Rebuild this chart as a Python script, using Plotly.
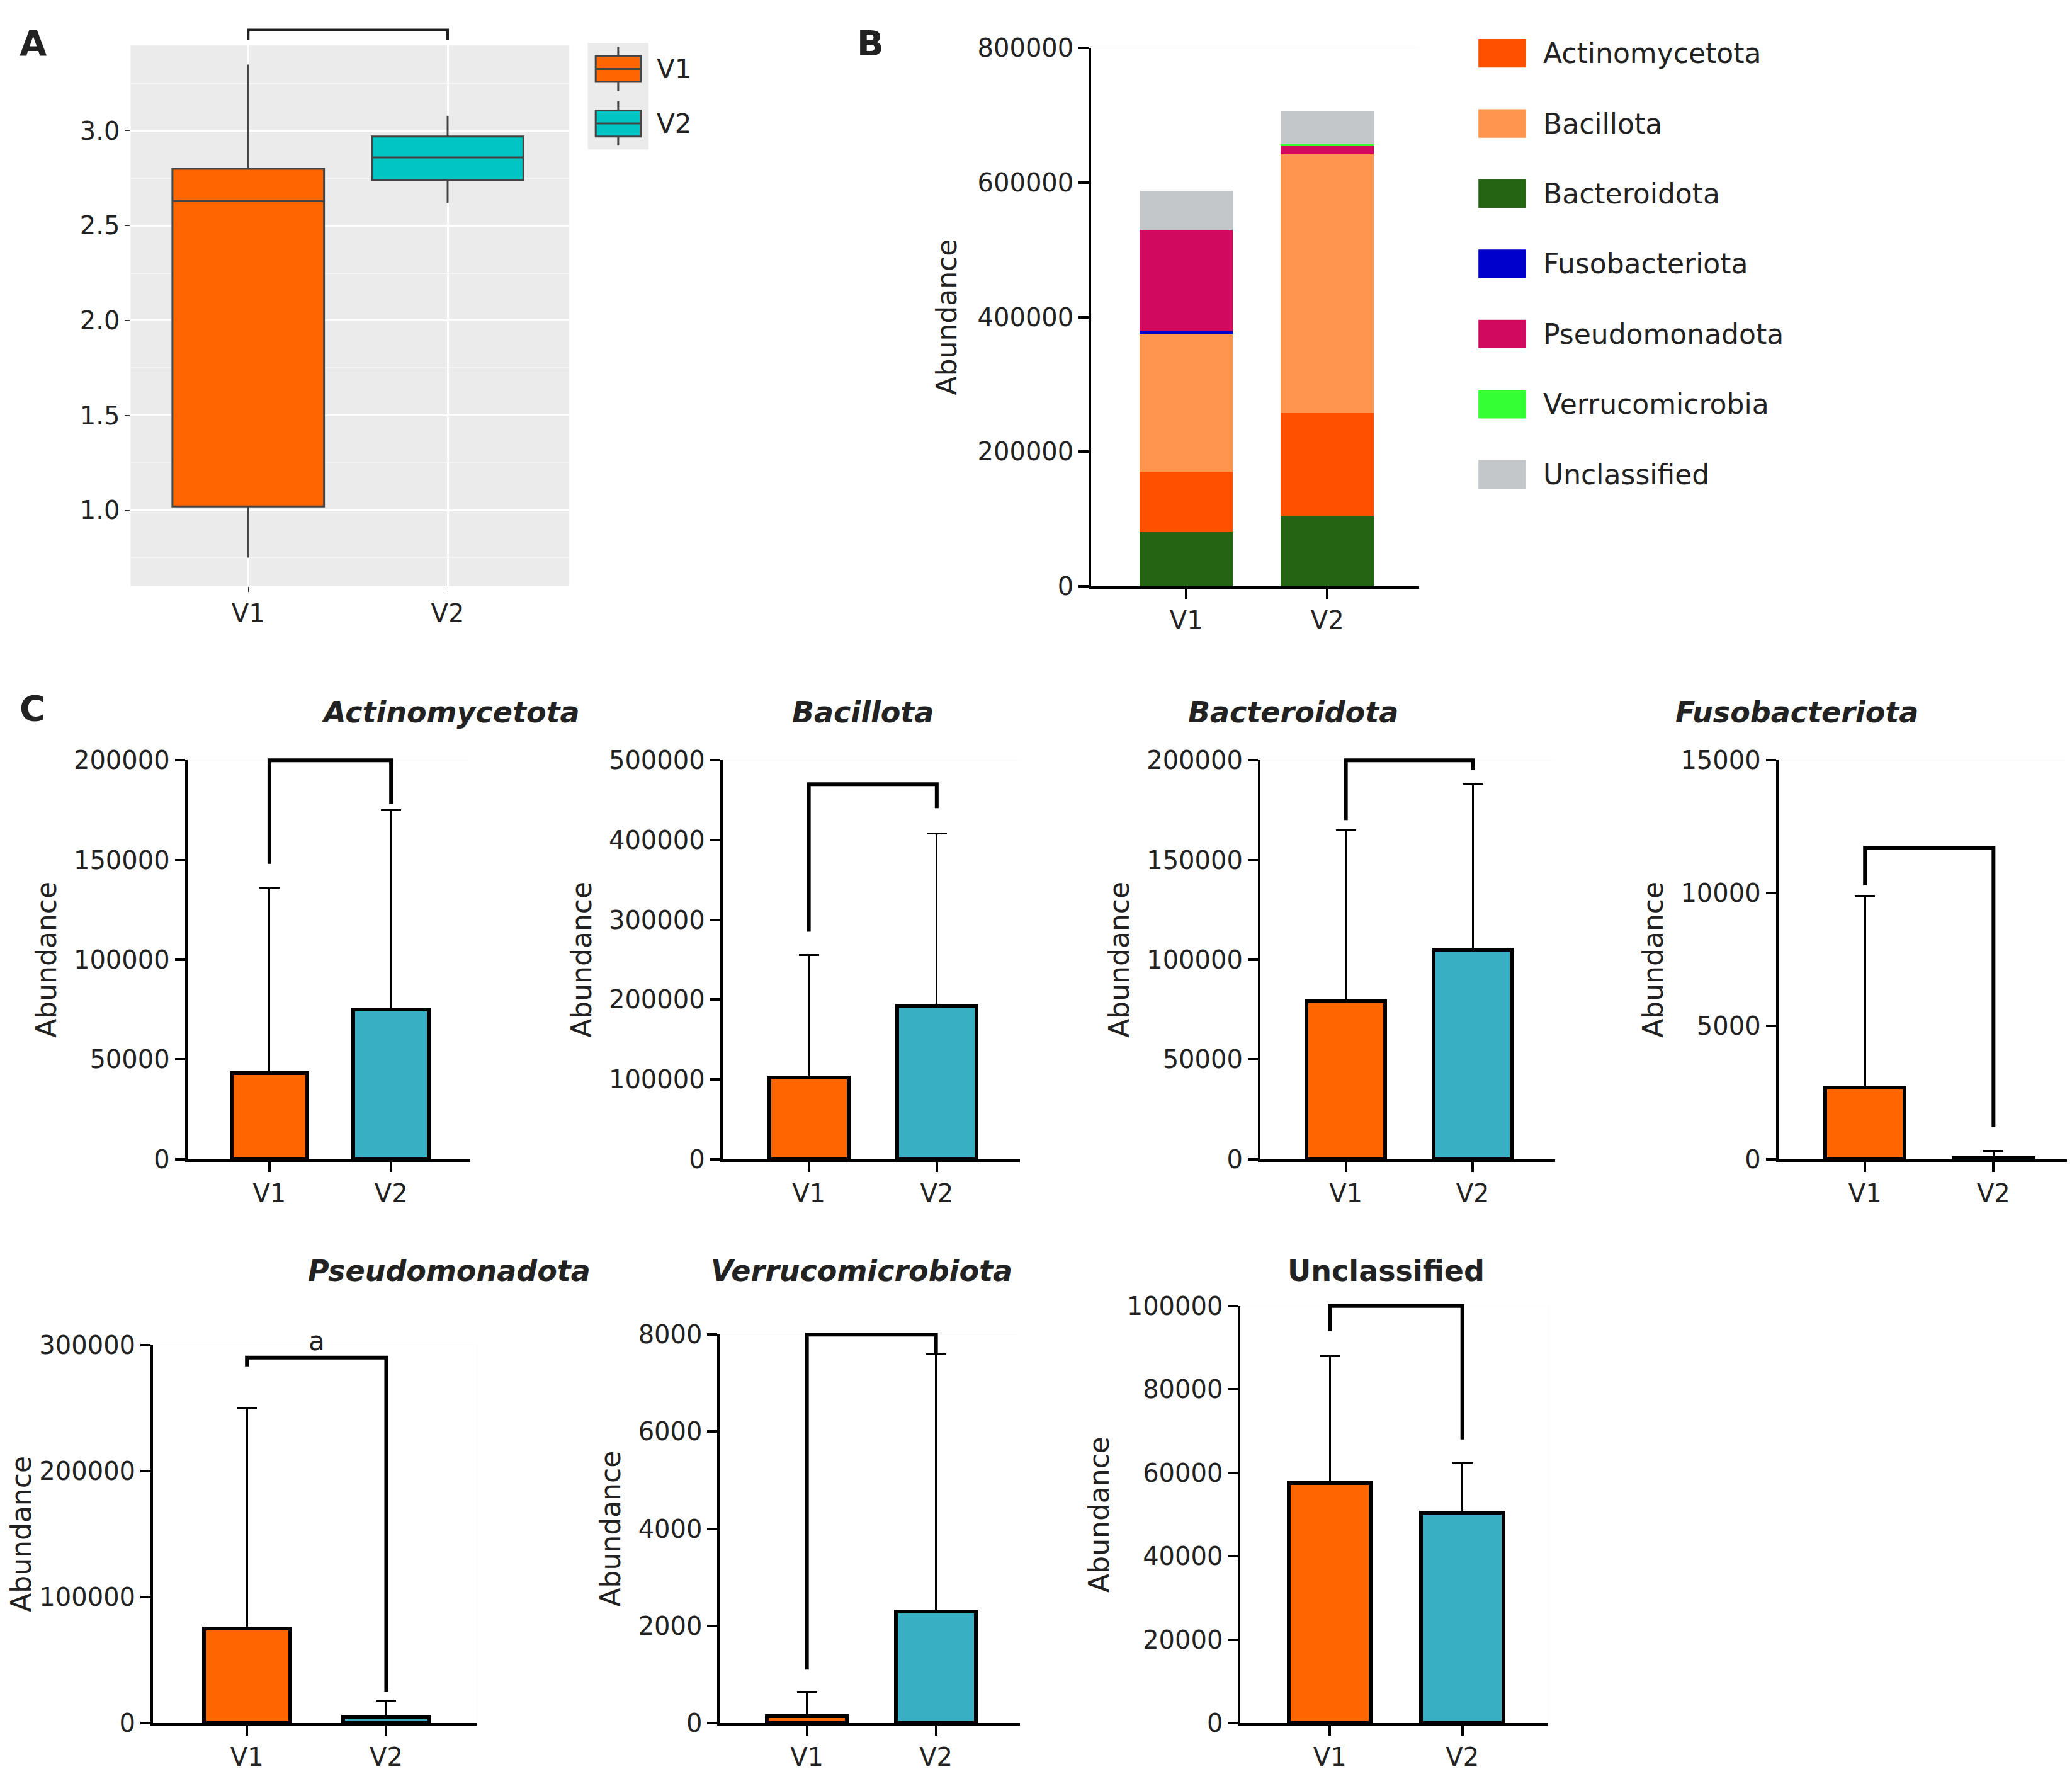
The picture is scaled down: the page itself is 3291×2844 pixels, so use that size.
import plotly.graph_objects as go

W, H = 3291, 2844
ORANGE, TEAL = "#FF6600", "#38AFC2"
FONT = "DejaVu Sans"

groups = ["V1", "V2"]

# Panel A box stats
a_lower = [0.75, 2.62]; a_q1 = [1.02, 2.74]; a_med = [2.63, 2.86]; a_q3 = [2.80, 2.97]; a_upper = [3.35, 3.08]

# Panel B stacked
phyla = ["Actinomycetota", "Bacillota", "Bacteroidota", "Fusobacteriota", "Pseudomonadota", "Verrucomicrobia", "Unclassified"]
phyla_colors = ["#FF5000", "#FF9650", "#246413", "#0000CC", "#D10A5F", "#33FF33", "#C4C7CA"]
stack_order = ["Bacteroidota", "Actinomycetota", "Bacillota", "Fusobacteriota", "Pseudomonadota", "Verrucomicrobia", "Unclassified"]
b_vals = {
    "Bacteroidota": [80000, 105000],
    "Actinomycetota": [90000, 152000],
    "Bacillota": [205000, 385000],
    "Fusobacteriota": [5000, 0],
    "Pseudomonadota": [150000, 12000],
    "Verrucomicrobia": [0, 3000],
    "Unclassified": [58000, 50000],
}

# Panel C
c_titles = ["Actinomycetota", "Bacillota", "Bacteroidota", "Fusobacteriota", "Pseudomonadota", "Verrucomicrobiota", "Unclassified"]
c_means = [[43000, 75000], [102000, 192000], [79000, 105000], [2700, 50], [75000, 5000], [150, 2300], [57500, 50500]]
c_errs = [[93000, 100000], [154000, 216000], [86000, 83000], [7200, 250], [175000, 13000], [500, 5300], [30500, 12000]]
c_ymax = [200000, 500000, 200000, 15000, 300000, 8000, 100000]
c_dtick = [50000, 100000, 50000, 5000, 100000, 2000, 20000]
c_bracket = [[200000, 148000, 178000], [470000, 285000, 440000], [200000, 170000, 195000], [11700, 10300, 1200],
             [290000, 283000, 25000], [8000, 1100, 7600], [100000, 94000, 68000]]
c_label = ["", "", "", "", "a", "", ""]
c_boxes = [(138, 352, 570, 877), (543, 768, 570, 877), (950, 1173, 570, 877), (1342, 1568, 570, 877),
           (112, 357, 1020, 1311), (541, 768, 1012, 1311), (935, 1168, 990, 1311)]

fig = go.Figure()
shapes, annos = [], []

def px(x): return x / 1568
def py(y): return 1 - y / 1356

axis_font = dict(family=FONT, size=40, color="#222")

def add_axes(i, box, xr, yr, **yextra):
    x0, x1, yt, yb = box
    xa = "xaxis" if i == 1 else f"xaxis{i}"
    ya = "yaxis" if i == 1 else f"yaxis{i}"
    fig.layout[xa] = dict(domain=[px(x0), px(x1)], anchor=f"y{i}" if i > 1 else "y", range=xr,
                          tickfont=axis_font, showgrid=False, zeroline=False)
    fig.layout[ya] = dict(domain=[py(yb), py(yt)], anchor=f"x{i}" if i > 1 else "x", range=yr,
                          tickfont=axis_font, showgrid=False, zeroline=False, **yextra)

# Panel A
for k, (g, col) in enumerate(zip(groups, ["#FF6600", "#00C5C5"])):
    fig.add_trace(go.Box(x=[g], q1=[a_q1[k]], median=[a_med[k]], q3=[a_q3[k]], lowerfence=[a_lower[k]],
                         upperfence=[a_upper[k]], fillcolor=col, line=dict(color="#444", width=3),
                         whiskerwidth=0, width=0.76, showlegend=False, xaxis="x", yaxis="y"))
add_axes(1, (95, 427, 20, 436), [-0.59, 1.61], [0.6, 3.45], tickvals=[1.0, 1.5, 2.0, 2.5, 3.0],
         ticktext=["1.0", "1.5", "2.0", "2.5", "3.0"], ticks="outside", ticklen=8, tickcolor="#333")
fig.layout.yaxis.update(showgrid=True, gridcolor="white", gridwidth=3,
                        minor=dict(tickvals=[0.75, 1.25, 1.75, 2.25, 2.75, 3.25], showgrid=True, gridcolor="#F5F5F5", gridwidth=2))
fig.layout.xaxis.update(showgrid=True, gridcolor="white", gridwidth=3, ticks="outside", ticklen=8, tickcolor="#333")
fig.layout.plot_bgcolor = "#EBEBEB"
shapes.append(dict(type="path", xref="x", yref="paper",
                   path=f"M 0 {py(16)} L 0 {py(8)} L 1 {py(8)} L 1 {py(16)}", line=dict(color="#222", width=4)))
shapes.append(dict(type="rect", xref="paper", yref="paper", x0=px(441), x1=px(487), y0=py(100), y1=py(18),
                   fillcolor="#EBEBEB", line=dict(width=0)))
for k, (g, col) in enumerate(zip(groups, ["#FF6600", "#00C5C5"])):
    yc = 38 + 42 * k
    shapes.append(dict(type="line", xref="paper", yref="paper", x0=px(464), x1=px(464), y0=py(yc + 17), y1=py(yc - 17),
                       line=dict(color="#444", width=3)))
    shapes.append(dict(type="rect", xref="paper", yref="paper", x0=px(447), x1=px(481), y0=py(yc + 10), y1=py(yc - 10),
                       fillcolor=col, line=dict(color="#444", width=3)))
    shapes.append(dict(type="line", xref="paper", yref="paper", x0=px(447), x1=px(481), y0=py(yc), y1=py(yc),
                       line=dict(color="#444", width=3)))
    annos.append(dict(x=px(492), y=py(yc), xref="paper", yref="paper", text=g, showarrow=False, xanchor="left",
                      yanchor="middle", font=dict(family=FONT, size=42, color="#222")))

# Panel B
for p in stack_order:
    idx = phyla.index(p)
    fig.add_trace(go.Bar(x=groups, y=b_vals[p], marker=dict(color=phyla_colors[idx], line=dict(width=0)),
                         width=0.66, showlegend=False, xaxis="x2", yaxis="y2"))
add_axes(2, (822, 1070, 22, 436), [-0.674, 1.65], [0, 800000], dtick=200000, tickformat="d", ticks="outside", ticklen=16,
         tickwidth=4, tickcolor="black", showline=True, linewidth=4, linecolor="black",
         title=dict(text="Abundance", font=dict(family=FONT, size=44, color="#222"), standoff=20))
fig.layout.xaxis2.update(showline=True, linewidth=4, linecolor="black", ticks="outside", ticklen=16, tickwidth=4, tickcolor="black")
for k, p in enumerate(phyla):
    yc = 26 + 54 * k
    shapes.append(dict(type="rect", xref="paper", yref="paper", x0=px(1115), x1=px(1151), y0=py(yc + 11), y1=py(yc - 11),
                       fillcolor=phyla_colors[k], line=dict(width=0)))
    annos.append(dict(x=px(1163), y=py(yc), xref="paper", yref="paper", text=p, showarrow=False, xanchor="left",
                      yanchor="middle", font=dict(family=FONT, size=44, color="#222")))

# Panel C
for j in range(7):
    i = j + 3
    fig.add_trace(go.Bar(x=groups, y=c_means[j], width=0.62,
                         marker=dict(color=[ORANGE, TEAL], line=dict(color="black", width=6)),
                         error_y=dict(type="data", array=c_errs[j], arrayminus=[0, 0], symmetric=False,
                                      color="black", thickness=3, width=16),
                         showlegend=False, xaxis=f"x{i}", yaxis=f"y{i}"))
    x0, x1, yt, yb = c_boxes[j]
    add_axes(i, c_boxes[j], [-0.674, 1.65], [0, c_ymax[j]], dtick=c_dtick[j], tickformat="d", ticks="outside", ticklen=16,
             tickwidth=4, tickcolor="black", showline=True, linewidth=4, linecolor="black",
             title=dict(text="Abundance", font=dict(family=FONT, size=44, color="#222"), standoff=15))
    fig.layout[f"xaxis{i}"].update(showline=True, linewidth=4, linecolor="black", ticks="outside", ticklen=16,
                                   tickwidth=4, tickcolor="black")
    ydom = fig.layout[f"yaxis{i}"].domain
    def yp(v, ydom=ydom, m=c_ymax[j]): return ydom[0] + v / m * (ydom[1] - ydom[0])
    top, l1, l2 = c_bracket[j]
    shapes.append(dict(type="path", xref=f"x{i}", yref="paper",
                       path=f"M 0 {yp(l1)} L 0 {yp(top)} L 1 {yp(top)} L 1 {yp(l2)}",
                       line=dict(color="black", width=6)))
    if c_label[j]:
        annos.append(dict(x=0.5, y=yp(top), xref=f"x{i}", yref="paper", text=c_label[j], showarrow=False,
                          yanchor="bottom", font=dict(family=FONT, size=42, color="#222")))
    title = c_titles[j] if c_titles[j] == "Unclassified" else f"<i>{c_titles[j]}</i>"
    annos.append(dict(x=(px(x0) + px(x1)) / 2 - 0.004, y=py(533 if j < 4 else 963), xref="paper", yref="paper",
                      text=f"<b>{title}</b>", showarrow=False, yanchor="middle",
                      font=dict(family=FONT, size=46, color="#222")))

for t, x, y in [("A", 10, 18), ("B", 655, 18), ("C", 10, 530)]:
    annos.append(dict(x=px(x), y=py(y), xref="paper", yref="paper", text=f"<b>{t}</b>", showarrow=False,
                      yanchor="middle", font=dict(family=FONT, size=56, color="#222")))

for i in range(2, 10):
    shapes.append(dict(type="rect", xref=f"x{i} domain", yref=f"y{i} domain", x0=0, x1=1, y0=0, y1=1,
                       fillcolor="white", line=dict(width=0), layer="below"))

fig.update_layout(width=W, height=H, margin=dict(l=0, r=0, t=0, b=0), paper_bgcolor="white",
                  barmode="stack", shapes=shapes, annotations=annos, showlegend=False,
                  font=dict(family=FONT))
fig.write_html("out.html")
